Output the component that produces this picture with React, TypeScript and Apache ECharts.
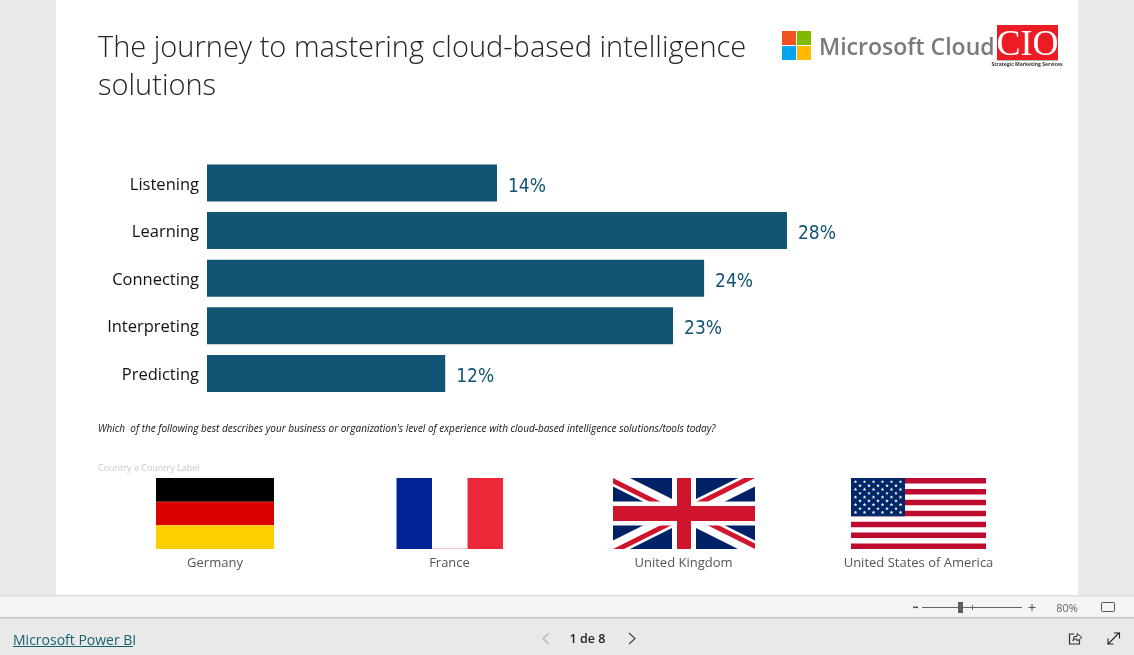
import React, { useEffect, useRef } from "react";
import * as echarts from "echarts";

const categories = ["Listening", "Learning", "Connecting", "Interpreting", "Predicting"];
const shares = [14, 28, 24, 22.5, 11.5];
const shareLabels = ["14%", "28%", "24%", "23%", "12%"];
const countries = ["Germany", "France", "United Kingdom", "United States of America"];
const titleLines = ["The journey to mastering cloud-based intelligence", "solutions"];
const question = "Which  of the following best describes your business or organization's level of experience with cloud-based intelligence solutions/tools today?";

const UI = '"Open Sans", "Noto Sans", sans-serif';

const rect = (x: number, y: number, w: number, h: number, fill: string, z = 1) => ({
  type: "rect", z, silent: true, shape: { x, y, width: w, height: h }, style: { fill },
});
const line = (x1: number, y1: number, x2: number, y2: number, stroke: string, lineWidth = 1) => ({
  type: "line", silent: true, z: 3, shape: { x1, y1, x2, y2 }, style: { stroke, lineWidth },
});
const poly = (points: number[][], fill: string) => ({
  type: "polygon", silent: true, z: 2, shape: { points }, style: { fill },
});
const pline = (points: number[][], stroke: string, lineWidth = 1) => ({
  type: "polyline", silent: true, z: 3, shape: { points }, style: { stroke, lineWidth, fill: "none" },
});
const text = (x: number, y: number, t: string, font: string, fill: string, align = "left", extra: any = {}) => ({
  type: "text", silent: true, z: 4, x, y,
  style: { text: t, font, fill, textAlign: align, textVerticalAlign: "middle", ...extra },
});

function germany() {
  const [x, y, w, h] = [156, 478, 118, 71];
  return [rect(x, y, w, h / 3, "#000000", 2), rect(x, y + h / 3, w, h / 3, "#dd0000", 2), rect(x, y + (2 * h) / 3, w, h / 3, "#ffce00", 2)];
}
function france() {
  const [x, y, w, h] = [396.5, 478, 106.5, 71];
  return [rect(x, y, w / 3, h, "#002395", 2), rect(x + w / 3, y, w / 3, h, "#ffffff", 2), rect(x + (2 * w) / 3, y, w / 3, h, "#ed2939", 2), line(x + w / 3, y + h - 0.5, x + (2 * w) / 3, y + h - 0.5, "#f6c9cf")];
}
function uk() {
  const [x0, y0, x1, y1] = [613, 478, 755, 549];
  const cx = (x0 + x1) / 2, cy = (y0 + y1) / 2;
  const blue = "#012169", red = "#cf142b";
  const a = 17, b = 8.5, ra = 11, rb = 5.5;
  return [
    rect(x0, y0, x1 - x0, y1 - y0, blue, 2),
    poly([[x0, y0], [x0 + a, y0], [x1, y1 - b], [x1, y1], [x1 - a, y1], [x0, y0 + b]], "#ffffff"),
    poly([[x1, y0], [x1, y0 + b], [x0 + a, y1], [x0, y1], [x0, y1 - b], [x1 - a, y0]], "#ffffff"),
    poly([[x0, y0], [cx, cy], [cx - ra, cy], [x0, y0 + rb]], red),
    poly([[x1, y1], [cx, cy], [cx + ra, cy], [x1, y1 - rb]], red),
    poly([[x1, y0], [cx, cy], [cx - ra, cy], [x1 - ra, y0]], red),
    poly([[x0, y1], [cx, cy], [cx + ra, cy], [x0 + ra, y1]], red),
    rect(cx - 24 / 2 - 0, y0, 24, y1 - y0, "#ffffff", 2),
    rect(x0, cy - 12, x1 - x0, 24, "#ffffff", 2),
    rect(cx - 7, y0, 14, y1 - y0, red, 2),
    rect(x0, cy - 7.5, x1 - x0, 15, red, 2),
  ];
}
function usa() {
  const [x, y, w, h] = [851, 478, 135, 71];
  const out: any[] = [rect(x, y, w, h, "#ffffff", 2)];
  const s = h / 13;
  for (let i = 0; i < 13; i += 2) out.push(rect(x, y + i * s, w, s, "#bf0a30", 2));
  const cw = 54, ch = s * 7;
  out.push(rect(x, y, cw, ch, "#002868", 2));
  for (let r = 0; r < 9; r++) {
    const n = r % 2 ? 5 : 6;
    for (let c = 0; c < n; c++) {
      const sx = x + cw * ((r % 2 ? 2 : 1) + c * 2) / 12;
      const sy = y + (ch * (r + 1)) / 10;
      const pts: number[][] = [];
      for (let k = 0; k < 10; k++) {
        const R = k % 2 ? 0.8 : 1.9;
        const ang = -Math.PI / 2 + (k * Math.PI) / 5;
        pts.push([sx + R * Math.cos(ang), sy + R * Math.sin(ang)]);
      }
      out.push({ ...poly(pts, "#ffffff"), z: 3 });
    }
  }
  return out;
}

function chrome() {
  return [
    rect(0, 0, 1134, 655, "#e9e9e9", 0),
    rect(56, 0, 1022, 595, "#ffffff", 0),
    rect(0, 595, 1134, 1.5, "#dedede", 0),
    rect(0, 596.5, 1134, 20.5, "#f4f4f4", 0),
    rect(0, 617, 1134, 1.5, "#c8c8c8", 0),
    // zoom slider
    rect(913, 606.5, 5, 1.6, "#555555", 3),
    line(922, 607.5, 1022, 607.5, "#666666"),
    line(972.5, 605, 972.5, 610, "#666666"),
    rect(958, 602, 5, 11, "#605e5c", 3),
    text(1032, 606.5, "+", `15px ${UI}`, "#555555", "center"),
    text(1067, 607, "80%", `11px ${UI}`, "#666666", "center"),
    { type: "rect", silent: true, z: 3, shape: { x: 1101.5, y: 602.5, width: 13, height: 9, r: 1 }, style: { fill: "none", stroke: "#555555", lineWidth: 1 } },
    // footer
    text(13, 639.5, "Microsoft Power BI", `14px ${UI}`, "#14646e"),
    line(13, 646.5, 133, 646.5, "#14646e"),
    text(587.5, 638.5, "1 de 8", `600 12.5px ${UI}`, "#252423", "center"),
    pline([[549, 633], [543, 638.5], [549, 644]], "#b5b5b5", 1.2),
    pline([[629, 633], [635, 638.5], [629, 644]], "#444444", 1.2),
    pline([[1074, 634], [1069.5, 634], [1069.5, 644], [1079.5, 644], [1079.5, 640]], "#333333", 1.2),
    pline([[1073, 641], [1074, 636.5], [1077, 636.5], [1077, 633.5], [1082, 637.5], [1077, 641], [1077, 639], [1074, 639], [1073, 641]], "#333333", 1),
    line(1108, 644, 1119, 633, "#222222", 1.1),
    pline([[1114, 633], [1119.5, 633], [1119.5, 638.5]], "#222222", 1.1),
    pline([[1108, 638.5], [1108, 644], [1113.5, 644]], "#222222", 1.1),
  ];
}

function logos() {
  return [
    rect(782, 31, 14, 14, "#f25022", 2),
    rect(797, 31, 14, 14, "#7fba00", 2),
    rect(782, 46, 14, 14, "#00a4ef", 2),
    rect(797, 46, 14, 14, "#ffb900", 2),
    text(819, 45.5, "Microsoft Cloud", `600 23px ${UI}`, "#7a7a7a", "left", { textWidth: 167 }),
    rect(997, 25, 61, 35, "#ed1c24", 2),
    text(1027.5, 43, "CIO", '36px "Liberation Serif", serif', "#ffffff", "center"),
    rect(997, 60, 61, 1, "#bbbbbb", 2),
    text(1027, 63.5, "Strategic Marketing Services", `bold 5px ${UI}`, "#333333", "center"),
  ];
}

export default function App() {
  const ref = useRef<HTMLDivElement>(null);
  useEffect(() => {
    const chart = echarts.init(ref.current!, undefined, { renderer: "svg" });
    const flagCentres = [215, 449.5, 683.5, 918.5];
    chart.setOption({
      animation: false,
      backgroundColor: "transparent",
      grid: { left: 207, top: 159.2, width: 621.4, height: 238, containLabel: false },
      xAxis: { type: "value", min: 0, max: 30, show: false },
      yAxis: {
        type: "category",
        inverse: true,
        data: categories,
        axisLine: { show: false },
        axisTick: { show: false },
        axisLabel: { fontFamily: UI, fontSize: 16.5, color: "#111111", margin: 8 },
      },
      series: [
        {
          type: "bar",
          data: shares,
          barWidth: 37,
          itemStyle: { color: "#135373" },
          z: 5,
          label: {
            show: true,
            position: "right",
            distance: 11,
            offset: [0, 1.5],
            fontFamily: '"DejaVu Sans Condensed", "DejaVu Sans", sans-serif',
            fontSize: 19,
            color: "#135373",
            formatter: (p: any) => shareLabels[p.dataIndex],
          },
        },
      ],
      graphic: [
        ...chrome(),
        text(98, 45, titleLines[0], `300 29px ${UI}`, "#252423"),
        text(98, 83, titleLines[1], `300 29px ${UI}`, "#252423"),
        ...logos(),
        text(98, 427.5, question, `italic 10px ${UI}`, "#111111"),
        text(98, 467.5, "Country e Country Label", `9px ${UI}`, "#c8c8c8"),
        ...germany(),
        ...france(),
        ...uk(),
        ...usa(),
        ...countries.map((c, i) => text(flagCentres[i], 561.5, c, `13px ${UI}`, "#555555", "center")),
      ],
    });
    return () => chart.dispose();
  }, []);
  return <div ref={ref} style={{ position: "fixed", left: 0, top: 0, width: 1134, height: 655 }} />;
}
